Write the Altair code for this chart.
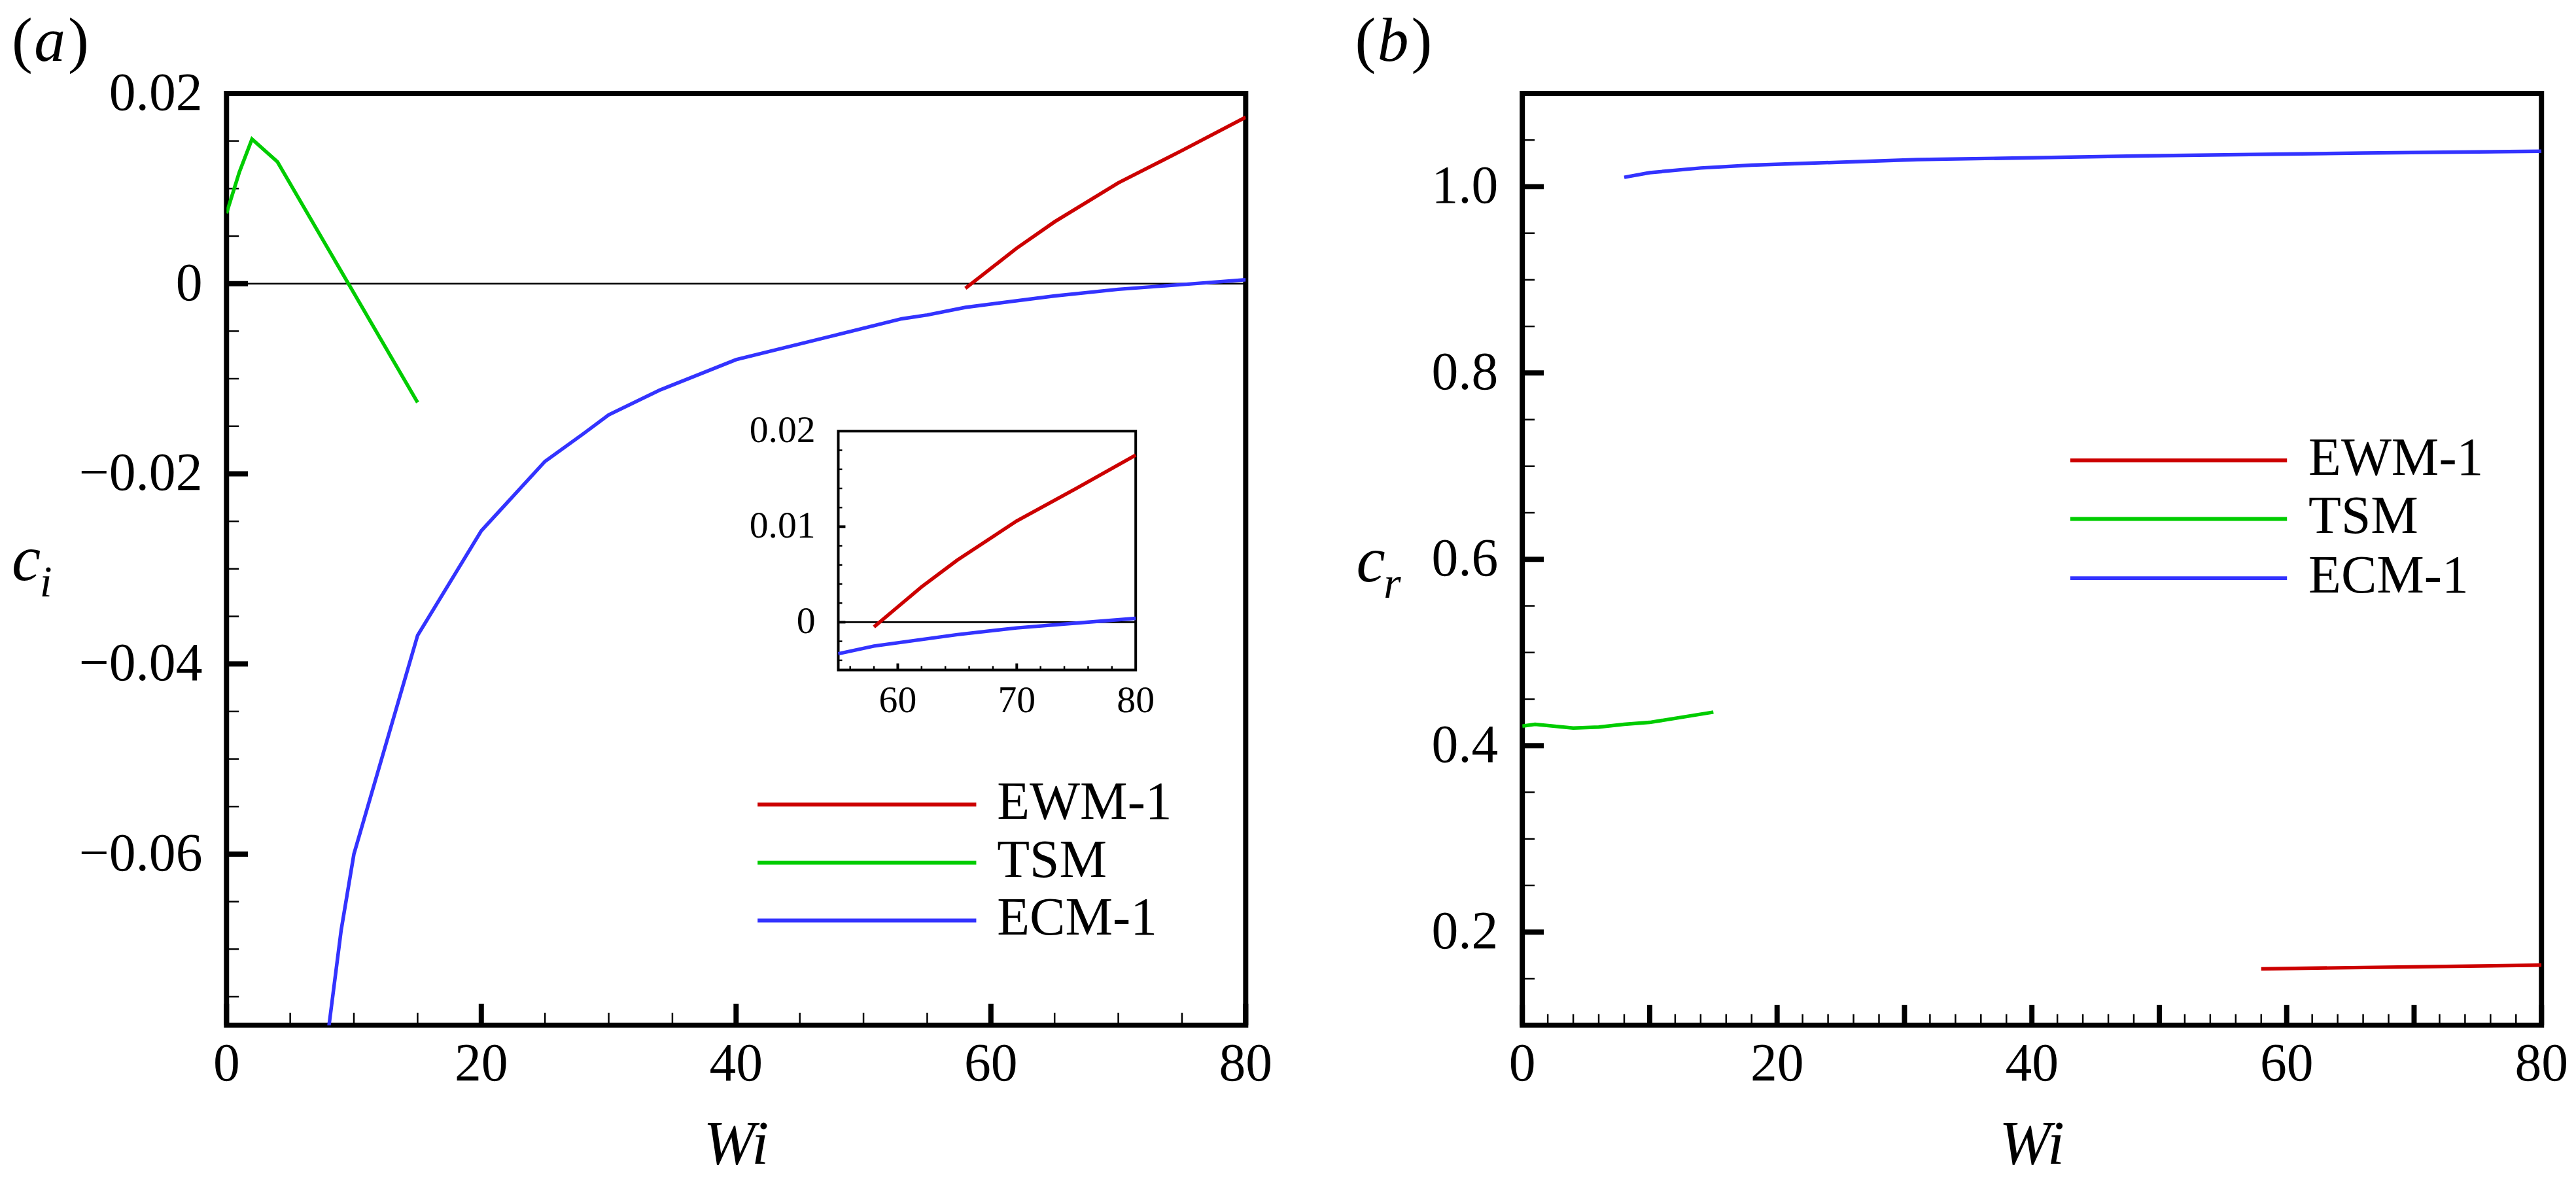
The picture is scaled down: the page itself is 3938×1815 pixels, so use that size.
import altair as alt
import pandas as pd

# ---------------- values ----------------
models = ["EWM-1", "TSM", "ECM-1"]
colors = ["#cc0000", "#00cc00", "#3333ff"]

# (a) growth rate c_i
ewm_wi_a = [58, 60, 62, 65, 70, 75, 80]
ewm_ci = [-0.0005, 0.0016, 0.0037, 0.0065, 0.0106, 0.0140, 0.0175]
tsm_wi_a = [0, 1, 2, 4, 10, 15]
tsm_ci = [0.0074, 0.0117, 0.0152, 0.0128, -0.0010, -0.0125]
ecm_wi_a = [8, 9, 10, 15, 20, 25, 28, 30, 34, 40, 53, 55, 58, 65, 70, 75, 80]
ecm_ci = [-0.0785, -0.0680, -0.0600, -0.0370, -0.0260, -0.0187, -0.0158, -0.0138,
          -0.0112, -0.0080, -0.0037, -0.0033, -0.0025, -0.0013, -0.0006, -0.0001, 0.0004]

# (b) phase speed c_r
ewm_wi_b = [58, 80]
ewm_cr = [0.1605, 0.1645]
tsm_wi_b = [0, 1, 4, 6, 8, 10, 15]
tsm_cr = [0.421, 0.423, 0.419, 0.420, 0.423, 0.425, 0.436]
ecm_wi_b = [8, 10, 14, 18, 31, 49, 66, 80]
ecm_cr = [1.010, 1.015, 1.020, 1.023, 1.029, 1.033, 1.036, 1.038]

# axes
x_dom = [0, 80]
ya_dom = [-0.078, 0.02]
yb_dom = [0.1, 1.1]
x_labels = [0, 20, 40, 60, 80]
xa_minor = [5, 10, 15, 25, 30, 35, 45, 50, 55, 65, 70, 75]
ya_labels = [-0.06, -0.04, -0.02, 0, 0.02]
ya_minor = [v / 1000 for v in range(-75, 20, 5) if v % 20 != 0]
xb_major = list(range(0, 81, 10))
xb_minor = [v for v in range(2, 80, 2) if v % 10]
yb_labels = [0.2, 0.4, 0.6, 0.8, 1.0]
yb_minor = [v / 100 for v in range(15, 110, 5) if v % 20 != 0]

# inset of (a)
inset_x_dom = [55, 80]
inset_y_dom = [-0.005, 0.02]
inset_x_labels = [60, 70, 80]
inset_x_major = [60, 70]
inset_x_minor = [56, 58, 62, 64, 66, 68, 72, 74, 76, 78]
inset_y_labels = [0, 0.01, 0.02]
inset_y_major = [0, 0.01]
inset_y_minor = [v / 1000 for v in range(-4, 20, 2) if v % 10 != 0]

W, H = 1566, 1432
FONT = "Liberation Serif"


def long_table(wis, vals):
    rows = []
    for name, ws, vs in zip(models, wis, vals):
        rows += [{"model": name, "wi": w, "v": v} for w, v in zip(ws, vs)]
    return pd.DataFrame(rows)


df_a = long_table([ewm_wi_a, tsm_wi_a, ecm_wi_a], [ewm_ci, tsm_ci, ecm_ci])
df_b = long_table([ewm_wi_b, tsm_wi_b, ecm_wi_b], [ewm_cr, tsm_cr, ecm_cr])

color = alt.Color("model:N", scale=alt.Scale(domain=models, range=colors), legend=None)


def sc(dom, rng=None):
    if rng is None:
        return alt.Scale(domain=dom, nice=False, zero=False)
    return alt.Scale(domain=dom, range=rng, nice=False, zero=False)


def curves(df, ydom):
    return alt.Chart(df).mark_line(strokeWidth=5.5, clip=True).encode(
        x=alt.X("wi:Q", scale=sc(x_dom), axis=None),
        y=alt.Y("v:Q", scale=sc(ydom), axis=None),
        color=color,
        order="wi:Q",
    )


def yticks(vals, yscale, length, width, x0=0):
    return alt.Chart(pd.DataFrame({"v": vals})).mark_rule(color="black", strokeWidth=width).encode(
        y=alt.Y("v:Q", scale=yscale, axis=None), x=alt.value(x0), x2=alt.value(x0 + length))


def xticks(vals, xscale, length, width, y0=H):
    return alt.Chart(pd.DataFrame({"v": vals})).mark_rule(color="black", strokeWidth=width).encode(
        x=alt.X("v:Q", scale=xscale, axis=None), y=alt.value(y0), y2=alt.value(y0 - length))


def ylabels(vals, yscale, expr, x, size=82):
    return alt.Chart(pd.DataFrame({"v": vals})).transform_calculate(lab=expr).mark_text(
        align="right", baseline="middle", font=FONT, fontSize=size, color="black").encode(
        y=alt.Y("v:Q", scale=yscale, axis=None), x=alt.value(x), text="lab:N")


def xlabels(vals, xscale, y, size=82):
    return alt.Chart(pd.DataFrame({"v": vals})).transform_calculate(
        lab="format(datum.v, 'd')").mark_text(
        align="center", baseline="middle", font=FONT, fontSize=size, color="black").encode(
        x=alt.X("v:Q", scale=xscale, axis=None), y=alt.value(y), text="lab:N")


def note(txt, x, y, size, italic=True, align="left", baseline="alphabetic"):
    return alt.Chart(pd.DataFrame({"t": [txt]})).mark_text(
        align=align, baseline=baseline, font=FONT, fontSize=size,
        fontStyle="italic" if italic else "normal", color="black",
    ).encode(text="t:N", x=alt.value(x), y=alt.value(y))


def panel_tag(letter, x, y, size=96):
    # upright parentheses around an italic letter, e.g. (a)
    return [
        note("(", x, y, size, italic=False, baseline="middle"),
        note(letter, x + 0.36 * size, y, size, baseline="middle"),
        note(")", x + 0.9 * size, y, size, italic=False, baseline="middle"),
    ]


def legend(x0, x1, xt, rows):
    parts = []
    for name, col, yy in zip(models, colors, rows):
        d = pd.DataFrame({"t": [name]})
        parts.append(alt.Chart(d).mark_rule(color=col, strokeWidth=6).encode(
            x=alt.value(x0), x2=alt.value(x1), y=alt.value(yy)))
        parts.append(alt.Chart(d).mark_text(align="left", baseline="middle", font=FONT,
                                            fontSize=82, color="black").encode(
            text="t:N", x=alt.value(xt), y=alt.value(yy - 3)))
    return parts


# ---------------- panel (a) ----------------
ya_fmt = "datum.v == 0 ? '0' : format(datum.v, '.2f')"
zero_a = alt.Chart(pd.DataFrame({"v": [0]})).mark_rule(color="black", strokeWidth=2.5).encode(
    y=alt.Y("v:Q", scale=sc(ya_dom), axis=None), x=alt.value(0), x2=alt.value(W))

main_a = alt.layer(
    zero_a,
    yticks(ya_minor, sc(ya_dom), 19, 2.5),
    yticks(ya_labels, sc(ya_dom), 33, 8),
    xticks(xa_minor, sc(x_dom), 19, 2.5),
    xticks(x_labels, sc(x_dom), 33, 8),
    curves(df_a, ya_dom),
    ylabels(ya_labels, sc(ya_dom), ya_fmt, -37),
    xlabels(x_labels, sc(x_dom), H + 60),
    *panel_tag("a", -330, -79),
    note("c", -330, 748, 100),
    note("i", -287, 773, 68),
    note("Wi", W / 2, 1645, 95, align="center"),
    *legend(816, 1152, 1184, [1093, 1182, 1271]),
)

# inset, drawn with its own scales mapped onto a sub-rectangle of panel (a)
IX0, IX1, IY0, IY1 = 940, 1397, 886, 519
xs_in = sc(inset_x_dom, [IX0, IX1])
ys_in = sc(inset_y_dom, [IY0, IY1])
box = pd.DataFrame({"x0": [inset_x_dom[0]], "x1": [inset_x_dom[1]],
                    "y0": [inset_y_dom[0]], "y1": [inset_y_dom[1]]})
inset_box = alt.Chart(box).mark_rect(fill="white", stroke="black", strokeWidth=4).encode(
    x=alt.X("x0:Q", scale=xs_in, axis=None), x2="x1:Q",
    y=alt.Y("y0:Q", scale=ys_in, axis=None), y2="y1:Q")
inset_zero = alt.Chart(box).mark_rule(color="black", strokeWidth=3).encode(
    x=alt.X("x0:Q", scale=xs_in, axis=None), x2="x1:Q",
    y=alt.Y(datum=0, scale=ys_in, axis=None))
inset_lines = alt.Chart(df_a).transform_filter("datum.wi >= 55").mark_line(strokeWidth=5.5).encode(
    x=alt.X("wi:Q", scale=xs_in, axis=None),
    y=alt.Y("v:Q", scale=ys_in, axis=None),
    color=color, order="wi:Q")

inset_a = alt.layer(
    inset_box,
    inset_zero,
    yticks(inset_y_minor, ys_in, 6, 2.5, IX0),
    yticks(inset_y_major, ys_in, 11, 4, IX0),
    xticks(inset_x_minor, xs_in, 6, 2.5, IY0),
    xticks(inset_x_major, xs_in, 10, 4, IY0),
    inset_lines,
    ylabels(inset_y_labels, ys_in, ya_fmt, IX0 - 35, 58),
    xlabels(inset_x_labels, xs_in, IY0 + 48, 58),
)

panel_a = alt.layer(main_a, inset_a).resolve_scale(
    x="independent", y="independent").properties(width=W, height=H)

# ---------------- panel (b) ----------------
panel_b = alt.layer(
    yticks(yb_minor, sc(yb_dom), 19, 2.5),
    yticks(yb_labels, sc(yb_dom), 33, 8),
    xticks(xb_minor, sc(x_dom), 17, 2.5),
    xticks(xb_major, sc(x_dom), 31, 8),
    curves(df_b, yb_dom),
    ylabels(yb_labels, sc(yb_dom), "format(datum.v, '.1f')", -37),
    xlabels(x_labels, sc(x_dom), H + 60),
    *panel_tag("b", -257, -79),
    note("c", -255, 750, 100),
    note("r", -213, 775, 68),
    note("Wi", W / 2, 1645, 95, align="center"),
    *legend(842, 1175, 1208, [564, 654, 745]),
).properties(width=W, height=H)

chart = alt.hconcat(panel_a, panel_b, spacing=119).properties(
    padding={"left": 6, "top": 0, "right": 0, "bottom": 0}
).configure_view(stroke="black", strokeWidth=8)

chart.save("out.html", embed_options={"renderer": "svg", "actions": False})
